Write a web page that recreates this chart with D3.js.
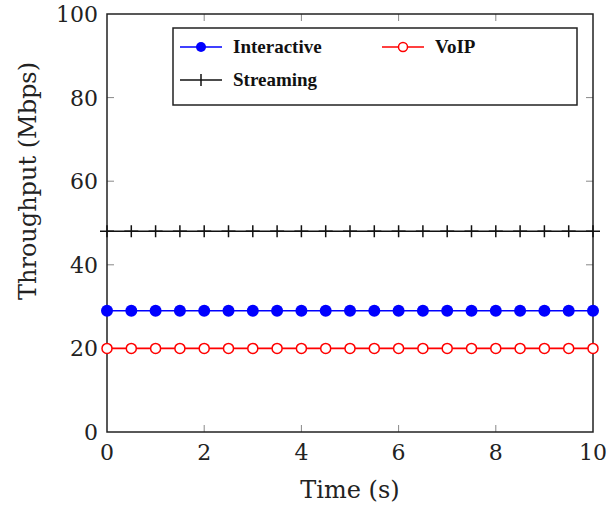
<!DOCTYPE html>
<html>
<head>
<meta charset="utf-8">
<script src="https://cdn.jsdelivr.net/npm/d3@7"></script>
<style>
body { margin: 0; background: #fff; }
</style>
</head>
<body>
<div id="chart"></div>
<script>
// data
const times = [0, 0.5, 1, 1.5, 2, 2.5, 3, 3.5, 4, 4.5, 5, 5.5, 6, 6.5, 7, 7.5, 8, 8.5, 9, 9.5, 10];
const interactive = [29, 29, 29, 29, 29, 29, 29, 29, 29, 29, 29, 29, 29, 29, 29, 29, 29, 29, 29, 29, 29];
const voip = [20, 20, 20, 20, 20, 20, 20, 20, 20, 20, 20, 20, 20, 20, 20, 20, 20, 20, 20, 20, 20];
const streaming = [48, 48, 48, 48, 48, 48, 48, 48, 48, 48, 48, 48, 48, 48, 48, 48, 48, 48, 48, 48, 48];
const xTicks = [0, 2, 4, 6, 8, 10];
const yTicks = [0, 20, 40, 60, 80, 100];

const W = 616, H = 508;
const pLeft = 107, pRight = 593, pTop = 14, pBottom = 432;
const font = "'DejaVu Serif', serif";
const legendFont = "'Liberation Serif', serif";

const svg = d3.select('#chart')
            .append("svg")
            .attr("width", W)
            .attr("height", H);

const x = d3.scaleLinear().domain([0, 10]).range([pLeft, pRight]);
const y = d3.scaleLinear().domain([0, 100]).range([pBottom, pTop]);

// inner ticks (gray)
const inner = svg.append("g").attr("stroke", "#888").attr("stroke-width", 1);
xTicks.slice(1, -1).forEach(t => {
  inner.append("line").attr("x1", x(t)).attr("x2", x(t)).attr("y1", pBottom).attr("y2", pBottom - 7);
  inner.append("line").attr("x1", x(t)).attr("x2", x(t)).attr("y1", pTop).attr("y2", pTop + 7);
});
yTicks.slice(1, -1).forEach(t => {
  inner.append("line").attr("x1", pLeft).attr("x2", pLeft + 7).attr("y1", y(t)).attr("y2", y(t));
  inner.append("line").attr("x1", pRight).attr("x2", pRight - 7).attr("y1", y(t)).attr("y2", y(t));
});

// frame
svg.append("rect")
    .attr("x", pLeft).attr("y", pTop)
    .attr("width", pRight - pLeft).attr("height", pBottom - pTop)
    .attr("fill", "none").attr("stroke", "#222").attr("stroke-width", 1.5);

// tick labels
svg.append("g").selectAll("text").data(xTicks).join("text")
    .attr("x", d => x(d)).attr("y", pBottom + 28)
    .attr("text-anchor", "middle")
    .attr("font-family", font).attr("font-size", 22).attr("fill", "#222")
    .text(d => d);
svg.append("g").selectAll("text").data(yTicks).join("text")
    .attr("x", pLeft - 9).attr("y", d => y(d) + 8)
    .attr("text-anchor", "end")
    .attr("font-family", font).attr("font-size", 22).attr("fill", "#222")
    .text(d => d);

// axis titles
svg.append("text")
    .attr("x", x(5)).attr("y", 498)
    .attr("text-anchor", "middle")
    .attr("font-family", font).attr("font-size", 24).attr("fill", "#222")
    .text("Time (s)");
svg.append("text")
    .attr("transform", "translate(36,181) rotate(-90)")
    .attr("text-anchor", "middle")
    .attr("font-family", font).attr("font-size", 24).attr("fill", "#222")
    .text("Throughput (Mbps)");

const line = d3.line().x(d => x(d[0])).y(d => y(d[1]));

// streaming
const sData = times.map((t, i) => [t, streaming[i]]);
svg.append("path").attr("d", line(sData)).attr("fill", "none").attr("stroke", "#111").attr("stroke-width", 1.5);
svg.append("g").selectAll("path").data(sData).join("path")
    .attr("d", d => `M${x(d[0]) - 7},${y(d[1])}H${x(d[0]) + 7}M${x(d[0])},${y(d[1]) - 6}V${y(d[1]) + 6}`)
    .attr("stroke", "#111").attr("stroke-width", 1.5);

// interactive
const iData = times.map((t, i) => [t, interactive[i]]);
svg.append("path").attr("d", line(iData)).attr("fill", "none").attr("stroke", "blue").attr("stroke-width", 1.5);
svg.append("g").selectAll("circle").data(iData).join("circle")
    .attr("cx", d => x(d[0])).attr("cy", d => y(d[1])).attr("r", 6)
    .attr("fill", "blue");

// voip
const vData = times.map((t, i) => [t, voip[i]]);
svg.append("path").attr("d", line(vData)).attr("fill", "none").attr("stroke", "red").attr("stroke-width", 1.8);
svg.append("g").selectAll("circle").data(vData).join("circle")
    .attr("cx", d => x(d[0])).attr("cy", d => y(d[1])).attr("r", 5)
    .attr("fill", "#fff").attr("stroke", "red").attr("stroke-width", 1.5);

// legend
const lg = svg.append("g");
lg.append("rect").attr("x", 173).attr("y", 28).attr("width", 404).attr("height", 77)
    .attr("fill", "#fff").attr("stroke", "#222").attr("stroke-width", 1.5);
const items = [
  {name: "Interactive", lx: 180, ly: 47, color: "blue", mark: "dot"},
  {name: "VoIP", lx: 382, ly: 47, color: "red", mark: "ring"},
  {name: "Streaming", lx: 180, ly: 80, color: "#111", mark: "plus"}
];
items.forEach(it => {
  lg.append("line").attr("x1", it.lx).attr("x2", it.lx + 42).attr("y1", it.ly).attr("y2", it.ly)
      .attr("stroke", it.color).attr("stroke-width", 1.5);
  const cx = it.lx + 21;
  if (it.mark === "dot") lg.append("circle").attr("cx", cx).attr("cy", it.ly).attr("r", 5).attr("fill", it.color);
  if (it.mark === "ring") lg.append("circle").attr("cx", cx).attr("cy", it.ly).attr("r", 4.5).attr("fill", "#fff").attr("stroke", it.color).attr("stroke-width", 1.5);
  if (it.mark === "plus") lg.append("path").attr("d", `M${cx},${it.ly - 6}V${it.ly + 6}`).attr("stroke", it.color).attr("stroke-width", 1.5);
  lg.append("text").attr("x", it.lx + 53).attr("y", it.ly + 6)
      .attr("font-family", legendFont).attr("font-size", 19).attr("font-weight", "bold").attr("fill", "#111")
      .text(it.name);
});
</script>
</body>
</html>
